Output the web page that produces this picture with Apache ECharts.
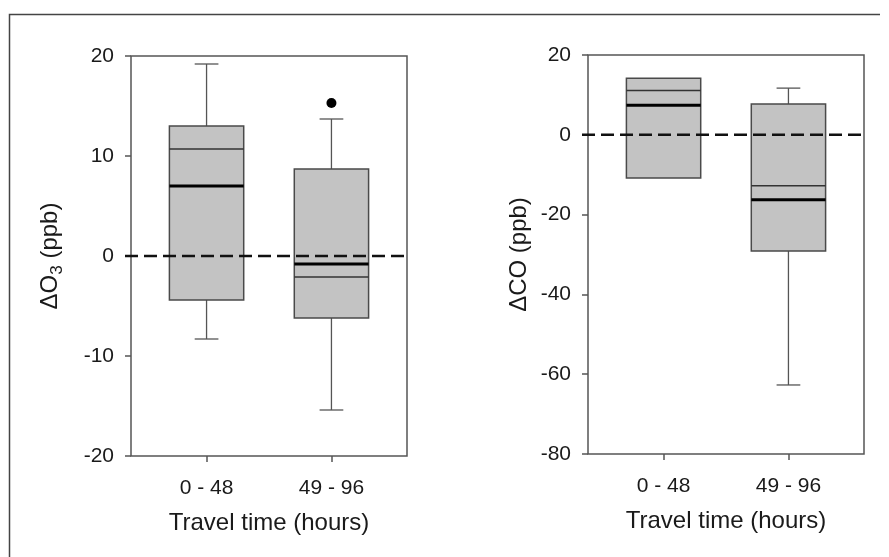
<!DOCTYPE html>
<html>
<head>
<meta charset="utf-8">
<script src="https://cdn.jsdelivr.net/npm/echarts@6/dist/echarts.min.js"></script>
<style>
html,body{margin:0;padding:0;background:#fff;}
#chart{width:889px;height:557px;}
</style>
</head>
<body>
<div id="chart"></div>
<script>
// ---- data ----
const categories = ['0 - 48', '49 - 96'];
const o3Ticks = [-20, -10, 0, 10, 20];
const coTicks = [-80, -60, -40, -20, 0, 20];

// ΔO3 (ppb) box statistics per category
const o3Min    = [-8.3, -15.4];
const o3Q1     = [-4.4, -6.2];
const o3Median = [7.0, -0.8];
const o3Mean   = [10.7, -2.1];
const o3Q3     = [13.0, 8.7];
const o3Max    = [19.2, 13.7];
const o3Outliers = [[1, 15.3]];

// ΔCO (ppb) box statistics per category (first group: no whiskers)
const coMin    = [-10.8, -62.7];
const coQ1     = [-10.8, -29.1];
const coMedian = [7.4, -16.3];
const coMean   = [11.1, -12.8];
const coQ3     = [14.2, 7.7];
const coMax    = [14.2, 11.7];

const zeroLine = [0];

// ---- build ----
const FONT = '"Liberation Sans", Arial, sans-serif';
const TXT = '#1a1a1a';
function rows(mn, q1, md, mean, q3, mx) {
  return categories.map((c, i) => [i, mn[i], q1[i], md[i], mean[i], q3[i], mx[i]]);
}

function renderBox(params, api) {
  const x = api.value(0);
  const vMin = api.value(1), vQ1 = api.value(2), vMed = api.value(3),
        vMean = api.value(4), vQ3 = api.value(5), vMax = api.value(6);
  const unit = api.size([1, 0])[0];
  const bw = unit * 0.595, cw = unit * 0.19;
  const cx = api.coord([x, 0])[0];
  const y = v => api.coord([x, v])[1];
  const children = [];
  const wStyle = { stroke: '#555', lineWidth: 1.3 };
  if (vMax > vQ3) {
    children.push({ type: 'line', shape: { x1: cx, y1: y(vQ3), x2: cx, y2: y(vMax) }, style: wStyle });
    children.push({ type: 'line', shape: { x1: cx - cw / 2, y1: y(vMax), x2: cx + cw / 2, y2: y(vMax) }, style: wStyle });
  }
  if (vMin < vQ1) {
    children.push({ type: 'line', shape: { x1: cx, y1: y(vQ1), x2: cx, y2: y(vMin) }, style: wStyle });
    children.push({ type: 'line', shape: { x1: cx - cw / 2, y1: y(vMin), x2: cx + cw / 2, y2: y(vMin) }, style: wStyle });
  }
  children.push({ type: 'rect', shape: { x: cx - bw / 2, y: y(vQ3), width: bw, height: y(vQ1) - y(vQ3) },
    style: { fill: '#c3c3c3', stroke: '#4a4a4a', lineWidth: 1.5 } });
  children.push({ type: 'line', shape: { x1: cx - bw / 2, y1: y(vMean), x2: cx + bw / 2, y2: y(vMean) },
    style: { stroke: '#333', lineWidth: 1.5 } });
  children.push({ type: 'line', shape: { x1: cx - bw / 2, y1: y(vMed), x2: cx + bw / 2, y2: y(vMed) },
    style: { stroke: '#000', lineWidth: 3 } });
  return { type: 'group', children };
}

function renderZero(params, api) {
  const cs = params.coordSys;
  const yy = api.coord([0, api.value(0)])[1];
  return { type: 'line', shape: { x1: cs.x - 6, y1: yy, x2: cs.x + cs.width, y2: yy },
    style: { stroke: '#111', lineWidth: 2.5, lineDash: [13, 6] } };
}

const axisLabelStyle = { fontFamily: FONT, fontSize: 21, color: TXT };
const catIdx = categories.map((c, i) => i);
function xAx(gi) {
  return {
    type: 'value', gridIndex: gi, min: -0.605, max: 1.605, position: 'bottom',
    axisLine: { show: false, onZero: false }, splitLine: { show: false },
    axisTick: { show: true, customValues: catIdx, length: 6, lineStyle: { color: '#555', width: 1.5 } },
    axisLabel: Object.assign({ margin: 22, customValues: catIdx, formatter: v => categories[Math.round(v)] }, axisLabelStyle),
    name: 'Travel time (hours)', nameLocation: 'middle', nameGap: 55,
    nameTextStyle: { fontFamily: FONT, fontSize: 24, color: TXT }
  };
}
function yAx(gi, ticks, nm, gap) {
  return {
    type: 'value', gridIndex: gi, min: ticks[0], max: ticks[ticks.length - 1], position: 'left',
    interval: ticks[1] - ticks[0],
    axisLine: { show: false, onZero: false }, splitLine: { show: false },
    axisTick: { show: true, length: 6, lineStyle: { color: '#555', width: 1.5 } },
    axisLabel: Object.assign({ margin: 17 }, axisLabelStyle),
    name: nm, nameLocation: 'middle', nameGap: gap, nameRotate: 90,
    nameTextStyle: {
      fontFamily: FONT, fontSize: 24, color: TXT,
      rich: {
        t: { fontFamily: FONT, fontSize: 24, color: TXT, lineHeight: 28 },
        s: { fontFamily: FONT, fontSize: 17, color: TXT, lineHeight: 28, padding: [14, 0, 0, 0] }
      }
    }
  };
}

const chart = echarts.init(document.getElementById('chart'), null, { renderer: 'canvas' });
chart.setOption({
  backgroundColor: '#fff',
  animation: false,
  graphic: [
    { type: 'polyline', shape: { points: [[9.5, 560], [9.5, 14.5], [880, 14.5]] },
      style: { stroke: '#444', lineWidth: 1.5, fill: null }, silent: true }
  ],
  grid: [
    { left: 131, top: 56, width: 276, height: 400, show: true, borderColor: '#555', borderWidth: 1.5, backgroundColor: 'transparent' },
    { left: 588, top: 55, width: 276, height: 399, show: true, borderColor: '#555', borderWidth: 1.5, backgroundColor: 'transparent' }
  ],
  xAxis: [xAx(0), xAx(1)],
  yAxis: [
    yAx(0, o3Ticks, '{t|ΔO}{s|3}{t| (ppb)}', 67),
    yAx(1, coTicks, '{t|ΔCO (ppb)}', 55)
  ],
  series: [
    { type: 'custom', xAxisIndex: 0, yAxisIndex: 0, renderItem: renderBox,
      encode: { x: 0, y: [1, 2, 3, 4, 5, 6] }, data: rows(o3Min, o3Q1, o3Median, o3Mean, o3Q3, o3Max), z: 2 },
    { type: 'custom', xAxisIndex: 1, yAxisIndex: 1, renderItem: renderBox,
      encode: { x: 0, y: [1, 2, 3, 4, 5, 6] }, data: rows(coMin, coQ1, coMedian, coMean, coQ3, coMax), z: 2 },
    { type: 'custom', xAxisIndex: 0, yAxisIndex: 0, renderItem: renderZero,
      encode: { y: 0 }, data: zeroLine.map(v => [v]), z: 5 },
    { type: 'custom', xAxisIndex: 1, yAxisIndex: 1, renderItem: renderZero,
      encode: { y: 0 }, data: zeroLine.map(v => [v]), z: 5 },
    { type: 'scatter', xAxisIndex: 0, yAxisIndex: 0, data: o3Outliers, symbol: 'circle', symbolSize: 10,
      itemStyle: { color: '#000', opacity: 1 }, z: 6 }
  ]
});
</script>
</body>
</html>
